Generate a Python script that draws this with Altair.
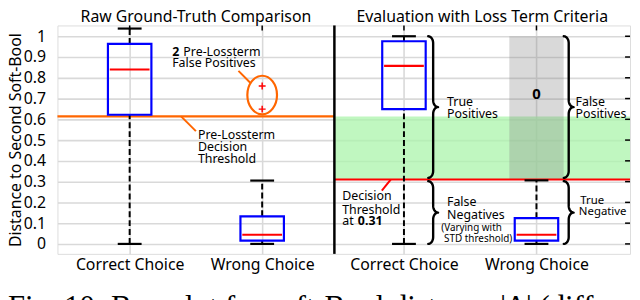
import altair as alt
import numpy as np
import pandas as pd

# ---------------- data ----------------
categories = ["Correct Choice", "Wrong Choice"]
panel_titles = ["Raw Ground-Truth Comparison", "Evaluation with Loss Term Criteria"]

raw_q1 = [0.622, 0.016]
raw_median = [0.840, 0.044]
raw_q3 = [0.963, 0.133]
raw_whisker_low = [0.0, 0.0]
raw_whisker_high = [1.037, 0.305]
raw_outliers = [0.760, 0.649]          # "+" outliers of Wrong Choice

eval_q1 = [0.649, 0.016]
eval_median = [0.857, 0.044]
eval_q3 = [0.976, 0.124]
eval_whisker_low = [0.0, 0.0]
eval_whisker_high = [1.000, 0.306]

pre_lossterm_threshold = 0.614
decision_threshold = 0.31
false_positive_count = "0"
y_tick_values = [0, 0.1, 0.2, 0.3, 0.4, 0.5, 0.6, 0.7, 0.8, 0.9, 1]
caption = "Fig. 10: Box plot for soft-Bool distance |\u0394| (diff"

# ---------------- layout constants ----------------
W, H = 579, 231
X_DOMAIN = [0.455, 4.776]
Y_DOMAIN = [-0.048, 1.052]
PANEL_SPLIT = 2.545
cat_pos = [[1.0, 2.0], [3.07, 4.07]]       # category centres, left / right panel
BOX_HW = 0.164     # half box width (x units)
MED_HW = 0.150
CAP_HW = 0.090
BLUE, RED, ORANGE = "#0000ff", "#ff0000", "#ff6600"
FONT = "Noto Sans"

XS = alt.Scale(domain=X_DOMAIN, nice=False, zero=False)
YS = alt.Scale(domain=Y_DOMAIN, nice=False, zero=False)
label_expr = " : ".join(
    [f"datum.value == {p} ? '{c}'" for pair in cat_pos for p, c in zip(pair, categories)]
) + " : ''"
XAX = alt.Axis(values=[p for pair in cat_pos for p in pair], labelExpr=label_expr,
               title=None, ticks=False, domain=False, grid=True,
               gridColor="#d9d9d9", gridWidth=1.6, labelPadding=3,
               labelFontSize=16, labelFont=FONT, labelColor="black")
YAX = alt.Axis(values=y_tick_values, format="~g", title="Distance to Second Soft-Bool",
               ticks=False, domain=False, grid=True, gridColor="#d9d9d9", gridWidth=1.6,
               labelPadding=12, labelFontSize=16, labelFont=FONT, labelColor="black",
               titleFontSize=16, titleFont=FONT, titleFontWeight="normal",
               titleColor="black", titlePadding=0)


def X(f):
    return alt.X(f, type="quantitative", scale=XS, axis=XAX)


def Y(f):
    return alt.Y(f, type="quantitative", scale=YS, axis=YAX)


# ---------------- tables ----------------
boxes = pd.DataFrame({
    "x": cat_pos[0] + cat_pos[1],
    "q1": raw_q1 + eval_q1,
    "med": raw_median + eval_median,
    "q3": raw_q3 + eval_q3,
    "lo": raw_whisker_low + eval_whisker_low,
    "hi": raw_whisker_high + eval_whisker_high,
})
outl = pd.DataFrame({"x": [cat_pos[0][1]] * len(raw_outliers), "y": raw_outliers})

bands = pd.DataFrame({
    "x": [PANEL_SPLIT, cat_pos[1][1] - 0.205],
    "x2": [X_DOMAIN[1], cat_pos[1][1] + 0.205],
    "y": [decision_threshold, decision_threshold],
    "y2": [pre_lossterm_threshold, eval_whisker_high[0]],
    "c": ["#abf4ab", "#808080"],
    "o": [0.75, 0.3],
})
thresholds = pd.DataFrame({
    "x": [X_DOMAIN[0], PANEL_SPLIT],
    "x2": [PANEL_SPLIT, X_DOMAIN[1]],
    "y": [pre_lossterm_threshold, decision_threshold],
    "c": [ORANGE, RED],
})

# ellipse around the two outliers
ell = pd.DataFrame({"x": [cat_pos[0][1]], "y": [0.717]})
ELLIPSE = ("M 0 -1.3 C 0.552 -1.3 1 -0.718 1 0 C 1 0.718 0.552 1.3 0 1.3 "
           "C -0.552 1.3 -1 0.718 -1 0 C -1 -0.718 -0.552 -1.3 0 -1.3 Z")
PLUS = "M -1 0 L 1 0 M 0 -1 L 0 1"

leaders = pd.DataFrame({
    "x": [1.821, 1.388, 2.970],
    "y": [0.833, pre_lossterm_threshold, decision_threshold],
    "x2": [1.910, 1.500, 2.903],
    "y2": [0.776, 0.543, 0.257],
    "c": [ORANGE, ORANGE, RED],
})


def brace_points(name, x0, ytop, ybot, w=0.0746, ry=0.033, n=10):
    mid = (ytop + ybot) / 2
    t = np.linspace(0, np.pi / 2, n)
    xs1 = x0 + (w / 2) * np.sin(t)
    ys1 = ytop - ry * (1 - np.cos(t))
    xs2 = x0 + w / 2 + (w / 2) * (1 - np.cos(t))
    ys2 = (mid + ry) - ry * np.sin(t)
    ux = np.concatenate([xs1, xs2])
    uy = np.concatenate([ys1, ys2])
    lx = ux[::-1][1:]
    ly = (2 * mid - uy)[::-1][1:]
    xs = np.concatenate([ux, lx])
    ys = np.concatenate([uy, ly])
    return pd.DataFrame({"b": name, "i": np.arange(len(xs)), "x": xs, "y": ys})


gap = 0.008
braces = pd.concat([
    brace_points("tp", 3.253, eval_whisker_high[0], decision_threshold + gap),
    brace_points("fn", 3.253, decision_threshold - gap, 0.0),
    brace_points("fp", 4.276, eval_whisker_high[0], decision_threshold + gap),
    brace_points("tn", 4.276, decision_threshold - gap, 0.0),
])

texts = pd.DataFrame([
    ("Pre-Lossterm", 1.515, 0.524), ("Decision", 1.515, 0.467), ("Threshold", 1.515, 0.410),
    ("Pre-Lossterm", 1.405, 0.924), ("False Positives", 1.321, 0.871),
    ("True", 3.395, 0.681), ("Positives", 3.395, 0.624),
    ("False", 4.365, 0.681), ("Positives", 4.365, 0.624),
    ("False", 3.395, 0.200), ("Negatives", 3.395, 0.138),
    ("Decision", 2.604, 0.229), ("Threshold", 2.604, 0.162), ("at", 2.604, 0.110),
], columns=["t", "x", "y"])
bold_texts = pd.DataFrame([("2", 1.321, 0.924), ("0.31", 2.722, 0.110)],
                          columns=["t", "x", "y"])
small_texts = pd.DataFrame([("(Varying with", 3.351, 0.076), ("STD threshold)", 3.373, 0.024)],
                           columns=["t", "x", "y"])
tn_texts = pd.DataFrame([("True", 4.40, 0.205), ("Negative", 4.39, 0.152)],
                        columns=["t", "x", "y"])
zero_text = pd.DataFrame({"t": [false_positive_count], "x": [cat_pos[1][1]], "y": [0.724]})
titles = pd.DataFrame({"t": panel_titles,
                       "x": [(X_DOMAIN[0] + PANEL_SPLIT) / 2, (PANEL_SPLIT + X_DOMAIN[1]) / 2]})
ticks_right = pd.DataFrame({"y": y_tick_values})
ticks_top = pd.DataFrame({"x": cat_pos[0] + cat_pos[1]})
split = pd.DataFrame({"x": [PANEL_SPLIT]})
cap_df = pd.DataFrame({"t": [caption]})

# ---------------- layers ----------------
band_layer = alt.Chart(bands).mark_rect().encode(
    x=X("x"), x2="x2", y=Y("y"), y2="y2",
    color=alt.Color("c:N", scale=None),
    opacity=alt.Opacity("o:Q", scale=None),
)

thr_layer = alt.Chart(thresholds).mark_rule(strokeWidth=2.2).encode(
    x=X("x"), x2="x2", y=Y("y"), color=alt.Color("c:N", scale=None))

base = alt.Chart(boxes).transform_calculate(
    xl=f"datum.x - {BOX_HW}", xr=f"datum.x + {BOX_HW}",
    ml=f"datum.x - {MED_HW}", mr=f"datum.x + {MED_HW}",
    cl=f"datum.x - {CAP_HW}", cr=f"datum.x + {CAP_HW}",
)
whisk_up = base.mark_rule(color="black", strokeWidth=2, strokeDash=[6, 3]).encode(
    x=X("x"), y=Y("q3"), y2="hi")
whisk_lo = base.mark_rule(color="black", strokeWidth=2, strokeDash=[6, 3]).encode(
    x=X("x"), y=Y("lo"), y2="q1")
cap_hi = base.mark_rule(color="black", strokeWidth=2.2).encode(x=X("cl"), x2="cr", y=Y("hi"))
cap_lo = base.mark_rule(color="black", strokeWidth=2.2).encode(x=X("cl"), x2="cr", y=Y("lo"))
box = base.mark_rect(fill="white", fillOpacity=0, stroke=BLUE, strokeWidth=2.2).encode(
    x=X("xl"), x2="xr", y=Y("q1"), y2="q3")
med = base.mark_rule(color=RED, strokeWidth=2.2).encode(x=X("ml"), x2="mr", y=Y("med"))

out_layer = alt.Chart(outl).mark_point(shape=PLUS, size=49, filled=False, color=RED,
                                       strokeWidth=1.5, opacity=1).encode(x=X("x"), y=Y("y"))
ell_layer = alt.Chart(ell).mark_point(shape=ELLIPSE, size=900, filled=False, color=ORANGE,
                                      strokeWidth=2.2, opacity=1).encode(x=X("x"), y=Y("y"))
lead_layer = alt.Chart(leaders).mark_rule(strokeWidth=2).encode(
    x=X("x"), x2="x2", y=Y("y"), y2="y2", color=alt.Color("c:N", scale=None))

brace_layer = alt.Chart(braces).mark_line(color="black", strokeWidth=2.4,
                                          strokeCap="round", strokeJoin="round").encode(
    x=X("x"), y=Y("y"), detail="b:N", order="i:Q")

txt = alt.Chart(texts).mark_text(align="left", baseline="middle", fontSize=12.5,
                                 font=FONT, color="black").encode(x=X("x"), y=Y("y"), text="t:N")
btxt = alt.Chart(bold_texts).mark_text(align="left", baseline="middle", fontSize=12.5,
                                       font=FONT, fontWeight="bold", color="black").encode(
    x=X("x"), y=Y("y"), text="t:N")
stxt = alt.Chart(small_texts).mark_text(align="left", baseline="middle", fontSize=10,
                                        font=FONT, color="black").encode(
    x=X("x"), y=Y("y"), text="t:N")
tntxt = alt.Chart(tn_texts).mark_text(align="left", baseline="middle", fontSize=11.5,
                                      font=FONT, color="black").encode(
    x=X("x"), y=Y("y"), text="t:N")
ztxt = alt.Chart(zero_text).mark_text(align="center", baseline="middle", fontSize=15,
                                      font=FONT, fontWeight="bold", color="black").encode(
    x=X("x"), y=Y("y"), text="t:N")
title_layer = alt.Chart(titles).mark_text(align="center", baseline="alphabetic", fontSize=16,
                                          font=FONT, color="black").encode(
    x=X("x"), y=alt.value(-3.5), text="t:N")

split_layer = alt.Chart(split).mark_rule(color="black", strokeWidth=2.5).encode(
    x=X("x"), y=alt.value(0), y2=alt.value(H))
rt_layer = alt.Chart(ticks_right).mark_rule(color="black", strokeWidth=1.5).encode(
    y=Y("y"), x=alt.value(W - 5), x2=alt.value(W))
tt_layer = alt.Chart(ticks_top).mark_rule(color="black", strokeWidth=1.5).encode(
    x=X("x"), y=alt.value(0), y2=alt.value(5))
cap_layer = alt.Chart(cap_df).mark_text(align="left", baseline="alphabetic", fontSize=31,
                                        font="Liberation Serif", color="black").encode(
    x=alt.value(-50), y=alt.value(294.5), text="t:N")

chart = alt.layer(
    band_layer, thr_layer, whisk_up, whisk_lo, cap_hi, cap_lo, box, med,
    out_layer, ell_layer, lead_layer, brace_layer,
    txt, btxt, stxt, tntxt, ztxt, title_layer,
    split_layer, rt_layer, tt_layer, cap_layer,
).properties(
    width=W, height=H,
    autosize=alt.AutoSizeParams(type="none"),
    padding={"left": 50, "top": 16, "right": 2, "bottom": 45},
).configure_view(stroke="black", strokeWidth=2.5).configure(font=FONT, background="white")

chart.save("out.html", embed_options={"renderer": "svg", "actions": False})
